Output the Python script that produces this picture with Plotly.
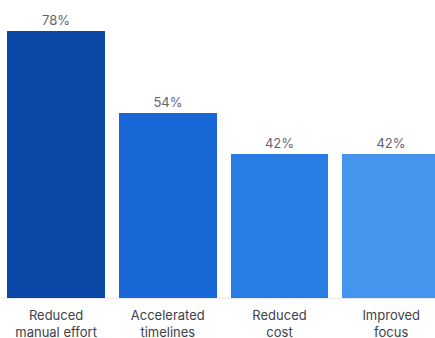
import plotly.graph_objects as go

categories = ["Reduced<br>manual effort", "Accelerated<br>timelines", "Reduced<br>cost", "Improved<br>focus"]
values = [78, 54, 42, 42]
bar_colors = ["#0a47a6", "#1a67d8", "#2a7de3", "#4594ee"]

fig = go.Figure(go.Bar(
    x=list(range(len(categories))),
    y=values,
    marker=dict(color=bar_colors, line=dict(width=0)),
    width=0.875,
    text=[f"{v}%" for v in values],
    textposition="outside",
    textfont=dict(family="Inter", size=13, color="#5f6670"),
    cliponaxis=False,
))

fig.update_layout(
    width=435, height=338,
    margin=dict(l=0, r=0, t=0, b=40, autoexpand=False),
    paper_bgcolor="white", plot_bgcolor="white",
    showlegend=False,
    bargap=0,
    xaxis=dict(
        range=[-0.502, 3.392],
        tickmode="array",
        tickvals=list(range(len(categories))),
        ticktext=categories,
        tickfont=dict(family="Inter", size=13, color="#3d4249"),
        showgrid=False, zeroline=False,
        showline=True, linecolor="#e8eaee", linewidth=1,
        ticks="", ticklabelstandoff=5, automargin=False,
    ),
    yaxis=dict(range=[0, 87.06], visible=False, showgrid=False),
)

fig.write_html("out.html")
